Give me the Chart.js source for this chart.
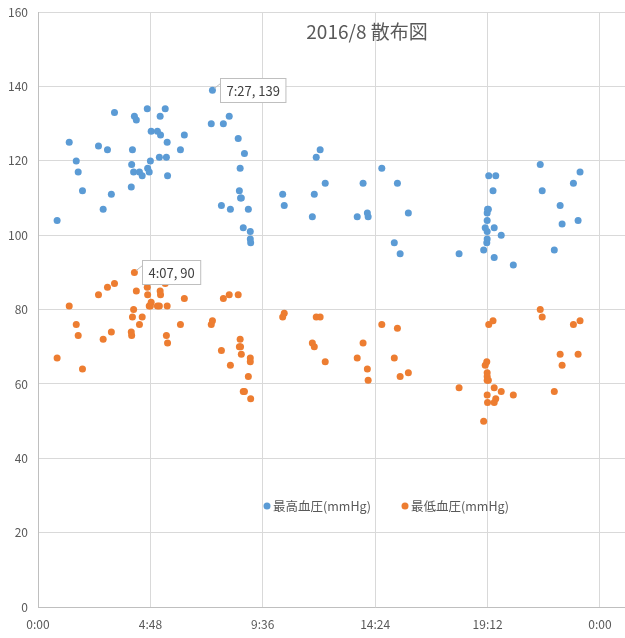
<!DOCTYPE html>
<html>
<head>
<meta charset="utf-8">
<script src="https://cdn.jsdelivr.net/npm/chart.js@4"></script>
<style>
  html, body { margin: 0; padding: 0; background: #fff; overflow: hidden; }
  #wrap { width: 734px; height: 643px; margin-top: -5px; }
</style>
</head>
<body>
<div id="wrap"><canvas id="chart"></canvas></div>
<script>
// 測定時刻 (H:MM)
const times = [
  '0:49','1:20','1:38','1:43','1:54','2:35','2:47','2:58','3:08','3:16',
  '3:59','4:00','4:02','4:05','4:07','4:12','4:20','4:27','4:40','4:41',
  '4:45','4:48','4:50','5:06','5:11','5:13','5:14','5:26','5:29','5:31',
  '5:32','6:05','6:15','7:24','7:27','7:50','7:55','8:10','8:13','8:33',
  '8:36','8:38','8:39','8:41','8:46','8:49','8:59','9:04','9:04','9:05',
  '10:27','10:31','11:43','11:48','11:53','12:03','12:16','13:38','13:53','14:04',
  '14:06','14:41','15:13','15:21','15:28','15:49','17:59','19:02','19:06','19:10',
  '19:11','19:11','19:11','19:11','19:12','19:14','19:15','19:26','19:29','19:29',
  '19:33','19:47','20:18','21:27','21:32','22:03','22:18','22:23','22:52','23:04',
  '23:09'
];
// 最高血圧
const systolic = [
  104,125,120,117,112,124,107,123,111,133,
  113,119,123,117,132,131,117,116,134,118,
  117,120,128,128,121,132,127,134,121,125,
  116,123,127,130,139,108,130,132,107,126,
  112,118,110,110,102,122,107,101,99,98,
  111,108,105,111,121,123,114,105,114,106,
  105,118,98,114,95,106,95,96,102,98,
  99,104,101,106,107,107,116,112,102,94,
  116,100,92,119,112,96,108,103,114,104,
  117
];
// 最低血圧
const diastolic = [
  67,81,76,73,64,84,72,86,74,87,
  74,73,78,80,90,85,76,78,86,84,
  81,81,82,81,81,85,84,87,73,81,
  71,76,83,76,77,69,83,84,65,84,
  70,72,70,68,58,58,62,67,66,56,
  78,79,71,70,78,78,66,67,71,64,
  61,76,67,75,62,63,59,50,65,66,
  63,62,61,57,55,61,76,77,59,55,
  56,58,57,80,78,58,68,65,76,68,
  77
];
const seriesNames = ['最高血圧(mmHg)', '最低血圧(mmHg)'];
const seriesColors = ['#5B9BD5', '#ED7D31'];
const titleText = '2016/8 散布図';
// データラベル表示点
const callouts = [
  { series: 0, time: '7:27' },
  { series: 1, time: '4:07' }
];

const FONT = '"Noto Sans CJK JP", "Noto Sans", sans-serif';
const TEXT = '#595959';

function toMinutes(t) {
  const p = t.split(':');
  return parseInt(p[0]) * 60 + parseInt(p[1]);
}
function fmtTime(m) {
  m = Math.round(m) % 1440;
  return Math.floor(m / 60) + ':' + String(m % 60).padStart(2, '0');
}

const mins = times.map(toMinutes);
const sysPoints = mins.map((m, i) => ({ x: m, y: systolic[i] }));
const diaPoints = mins.map((m, i) => ({ x: m, y: diastolic[i] }));

// タイトル・凡例・データラベル
const extras = {
  id: 'extras',
  afterDatasetsDraw(chart) {
    const ctx = chart.ctx;
    const area = chart.chartArea;
    ctx.save();

    // タイトル
    ctx.font = '19px ' + FONT;
    ctx.fillStyle = TEXT;
    ctx.textAlign = 'center';
    ctx.textBaseline = 'middle';
    ctx.fillText(titleText, chart.width / 2, area.top + 20);

    // 凡例
    ctx.font = '12.5px ' + FONT;
    ctx.textAlign = 'left';
    let lx = area.left + 229;
    const ly = area.bottom - 101;
    seriesNames.forEach((name, i) => {
      ctx.fillStyle = seriesColors[i];
      ctx.beginPath();
      ctx.arc(lx, ly, 3.5, 0, Math.PI * 2);
      ctx.fill();
      ctx.fillStyle = TEXT;
      ctx.fillText(name, lx + 6, ly);
      lx += 138;
    });

    // データラベル
    callouts.forEach(c => {
      const idx = times.indexOf(c.time);
      const meta = chart.getDatasetMeta(c.series);
      const el = meta.data[idx];
      const val = c.series === 0 ? systolic[idx] : diastolic[idx];
      const label = c.time + ', ' + val;
      ctx.font = '13px ' + FONT;
      const w = ctx.measureText(label).width + 12;
      const h = 24;
      const bx = Math.round(el.x) + 8.5;
      const by = Math.round(el.y) - 11.5;
      ctx.strokeStyle = '#bfbfbf';
      ctx.lineWidth = 1;
      ctx.beginPath();
      ctx.moveTo(el.x + 2, el.y - 2);
      ctx.lineTo(bx, by + 5);
      ctx.stroke();
      ctx.fillStyle = '#fff';
      ctx.fillRect(bx, by, w, h);
      ctx.strokeRect(bx, by, w, h);
      ctx.fillStyle = '#404040';
      ctx.textAlign = 'left';
      ctx.fillText(label, bx + 6, by + h / 2 + 1);
    });
    ctx.restore();
  }
};

new Chart(document.getElementById('chart'), {
  type: 'scatter',
  data: {
    datasets: [
      {
        label: seriesNames[0],
        data: sysPoints,
        backgroundColor: seriesColors[0],
        borderColor: seriesColors[0],
        pointRadius: 3.5,
        borderWidth: 0
      },
      {
        label: seriesNames[1],
        data: diaPoints,
        backgroundColor: seriesColors[1],
        borderColor: seriesColors[1],
        pointRadius: 3.5,
        borderWidth: 0
      }
    ]
  },
  options: {
    responsive: true,
    maintainAspectRatio: false,
    animation: false,
    layout: { padding: { top: 7, right: 21, left: 0, bottom: 0 } },
    plugins: {
      legend: { display: false },
      tooltip: { enabled: false },
      title: { display: false }
    },
    scales: {
      x: {
        type: 'linear',
        min: 0,
        max: 1728,
        afterFit(s) { s.height = 31; },
        afterBuildTicks(s) {
          s.ticks = [];
          for (let v = 0; v <= 1728; v += 288) s.ticks.push({ value: v });
        },
        ticks: {
          callback: v => fmtTime(v),
          color: TEXT,
          font: { family: FONT, size: 12 },
          padding: 10,
          maxRotation: 0,
          autoSkip: false
        },
        grid: { color: '#d9d9d9', drawTicks: false },
        border: { color: '#bfbfbf' }
      },
      y: {
        min: 0,
        max: 160,
        afterFit(s) { s.width = 38; },
        ticks: {
          stepSize: 20,
          color: TEXT,
          font: { family: FONT, size: 12 },
          padding: 10
        },
        grid: { color: '#d9d9d9', drawTicks: false },
        border: { color: '#bfbfbf' }
      }
    }
  },
  plugins: [extras]
});
</script>
</body>
</html>
